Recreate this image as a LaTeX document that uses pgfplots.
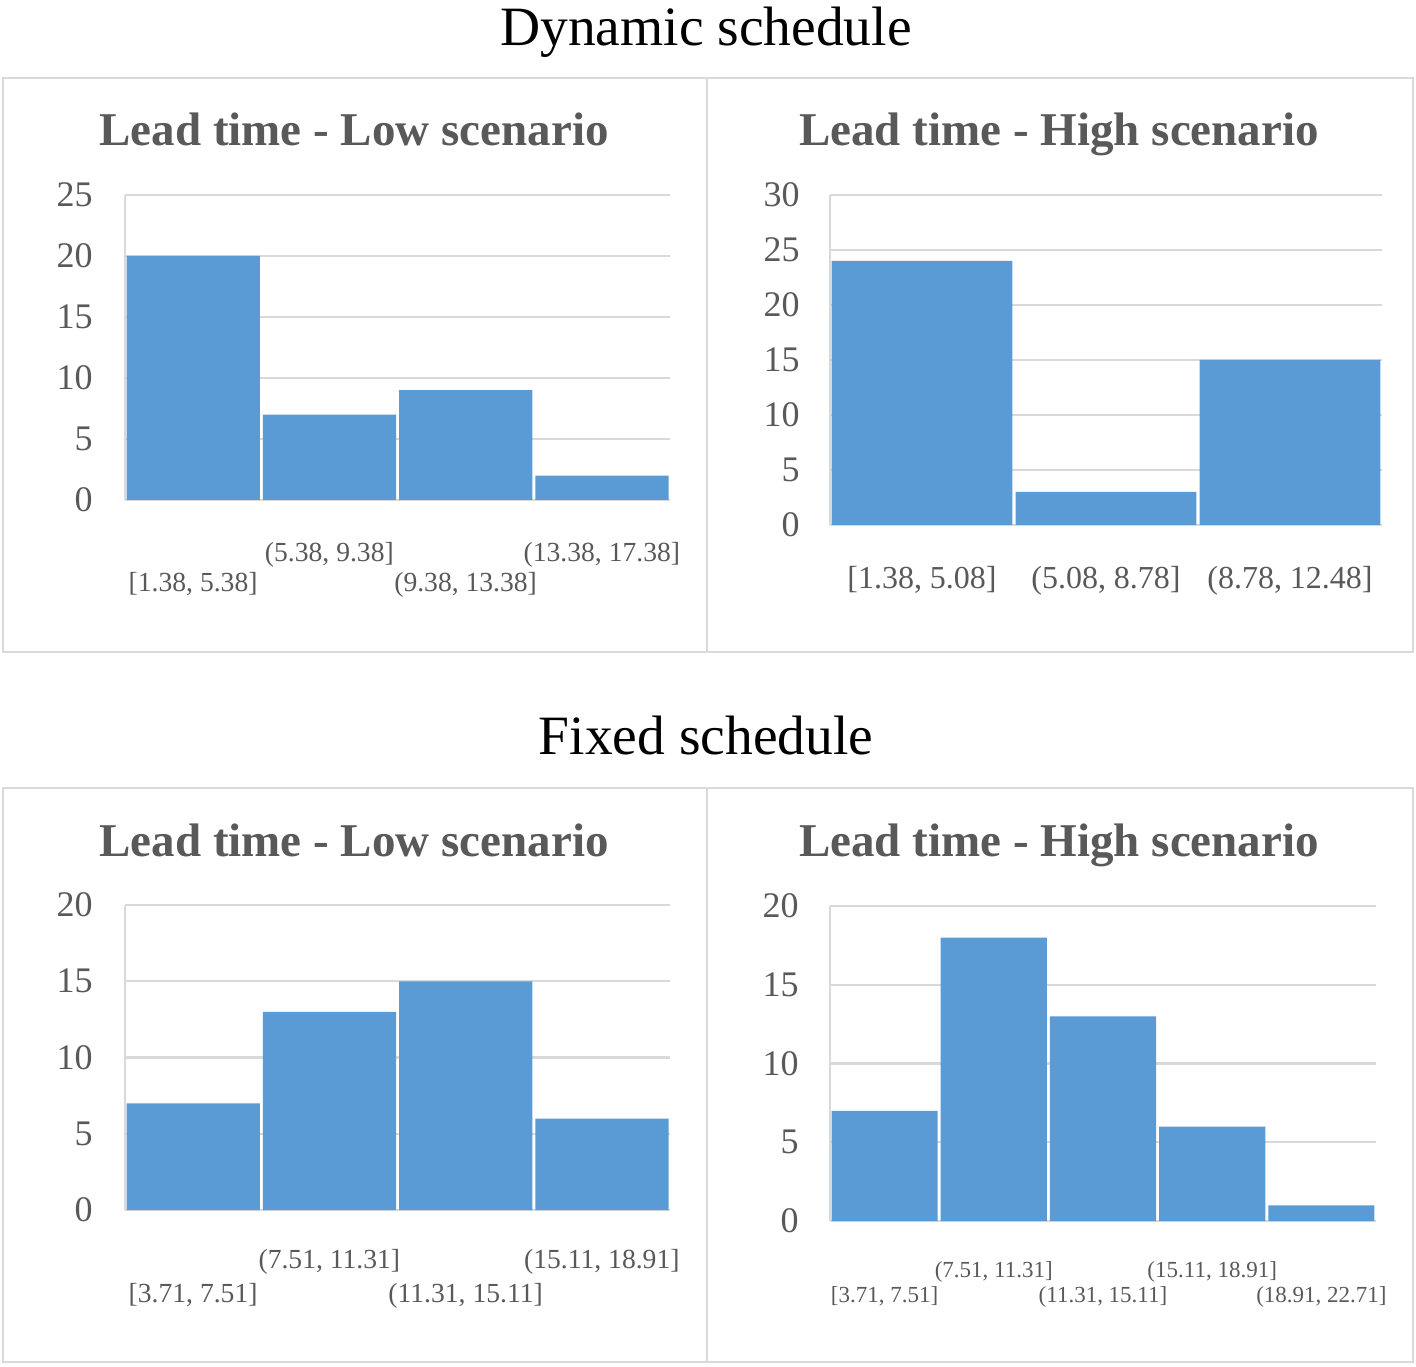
\documentclass[border=0pt]{standalone}
\usepackage{fontspec}
\setmainfont{Liberation Serif}
\usepackage{pgfplots}
\pgfplotsset{compat=1.18}
\definecolor{barblue}{HTML}{5B9BD5}
\definecolor{gridgray}{HTML}{D9D9D9}
\definecolor{txtgray}{HTML}{595959}
\pgfplotsset{hist/.style={
  scale only axis, anchor=south west,
  xmin=0, ymin=0, enlargelimits=false,
  axis lines*=left,
  axis line style={draw=gridgray, line width=1.2pt, -},
  ymajorgrids, grid style={draw=gridgray, line width=1.2pt},
  major tick length=0pt, tick style={draw=none},
  /pgf/number format/assume math mode=true,
  yticklabel style={anchor=east, inner sep=0pt, text=txtgray, font=\fontsize{18}{18}\selectfont},
  xticklabel style={anchor=base, inner sep=0pt, text=txtgray},
  ybar, bar shift=0pt,
}}
\begin{document}
\begin{tikzpicture}
\path[fill=white] (0pt,0pt) rectangle (708pt,683pt);
% panel frames
\draw[gridgray, line width=1.3pt] (1.5pt,357pt) rectangle (353.5pt,644pt);
\draw[gridgray, line width=1.3pt] (353.5pt,357pt) rectangle (706.5pt,644pt);
\draw[gridgray, line width=1.3pt] (1.5pt,2pt) rectangle (353.5pt,289pt);
\draw[gridgray, line width=1.3pt] (353.5pt,2pt) rectangle (706.5pt,289pt);
% section titles
\node[anchor=base, inner sep=0pt, font=\fontsize{27.75}{30}\selectfont] at (353pt,660pt) {Dynamic schedule};
\node[anchor=base, inner sep=0pt, font=\fontsize{27.75}{30}\selectfont] at (353pt,306pt) {Fixed schedule};
% panel titles
\node[anchor=base, inner sep=0pt, text=txtgray, font=\fontsize{23.5}{26}\selectfont\bfseries] at (177pt,610pt) {Lead time - Low scenario};
\node[anchor=base, inner sep=0pt, text=txtgray, font=\fontsize{23.5}{26}\selectfont\bfseries] at (529.5pt,610pt) {Lead time - High scenario};
\node[anchor=base, inner sep=0pt, text=txtgray, font=\fontsize{23.5}{26}\selectfont\bfseries] at (177pt,255pt) {Lead time - Low scenario};
\node[anchor=base, inner sep=0pt, text=txtgray, font=\fontsize{23.5}{26}\selectfont\bfseries] at (529.5pt,255pt) {Lead time - High scenario};

% Panel 1: Dynamic, Low
\begin{axis}[hist, at={(62.5pt,433pt)}, width=272.5pt, height=152.5pt,
  xmax=4, ymax=25, ytick={0,5,10,15,20,25},
  yticklabel style={xshift=-16pt},
  xtick={0.5,1.5,2.5,3.5},
  xticklabels={{[1.38, 5.38]},{\raisebox{15pt}{(5.38, 9.38]}},{(9.38, 13.38]},{\raisebox{15pt}{(13.38, 17.38]}}},
  xticklabel style={yshift=-46pt, font=\fontsize{13.8}{14}\selectfont}]
\addplot[fill=barblue, draw=none, bar width=0.978] coordinates {(0.5,20) (1.5,7) (2.5,9) (3.5,2)};
\end{axis}

% Panel 2: Dynamic, High
\begin{axis}[hist, at={(415pt,420.5pt)}, width=276pt, height=165pt,
  xmax=3, ymax=30, ytick={0,5,10,15,20,25,30},
  yticklabel style={xshift=-15pt},
  xtick={0.5,1.5,2.5},
  xticklabels={{[1.38, 5.08]},{(5.08, 8.78]},{(8.78, 12.48]}},
  xticklabel style={yshift=-31.5pt, font=\fontsize{16}{16}\selectfont}]
\addplot[fill=barblue, draw=none, bar width=0.982] coordinates {(0.5,24) (1.5,3) (2.5,15)};
\end{axis}

% Panel 3: Fixed, Low
\begin{axis}[hist, at={(62.5pt,78pt)}, width=272.5pt, height=152.5pt,
  xmax=4, ymax=20, ytick={0,5,10,15,20},
  yticklabel style={xshift=-16pt},
  xtick={0.5,1.5,2.5,3.5},
  xticklabels={{[3.71, 7.51]},{\raisebox{17pt}{(7.51, 11.31]}},{(11.31, 15.11]},{\raisebox{17pt}{(15.11, 18.91]}}},
  xticklabel style={yshift=-46pt, font=\fontsize{13.8}{14}\selectfont}]
\addplot[fill=barblue, draw=none, bar width=0.978] coordinates {(0.5,7) (1.5,13) (2.5,15) (3.5,6)};
\end{axis}

% Panel 4: Fixed, High
\begin{axis}[hist, at={(415pt,72.5pt)}, width=273pt, height=157.5pt,
  xmax=5, ymax=20, ytick={0,5,10,15,20},
  yticklabel style={xshift=-15.5pt},
  xtick={0.5,1.5,2.5,3.5,4.5},
  xticklabels={{[3.71, 7.51]},{\raisebox{12.5pt}{(7.51, 11.31]}},{(11.31, 15.11]},{\raisebox{12.5pt}{(15.11, 18.91]}},{(18.91, 22.71]}},
  xticklabel style={yshift=-40.5pt, font=\fontsize{11.5}{12}\selectfont}]
\addplot[fill=barblue, draw=none, bar width=0.972] coordinates {(0.5,7) (1.5,18) (2.5,13) (3.5,6) (4.5,1)};
\end{axis}
\end{tikzpicture}
\end{document}
